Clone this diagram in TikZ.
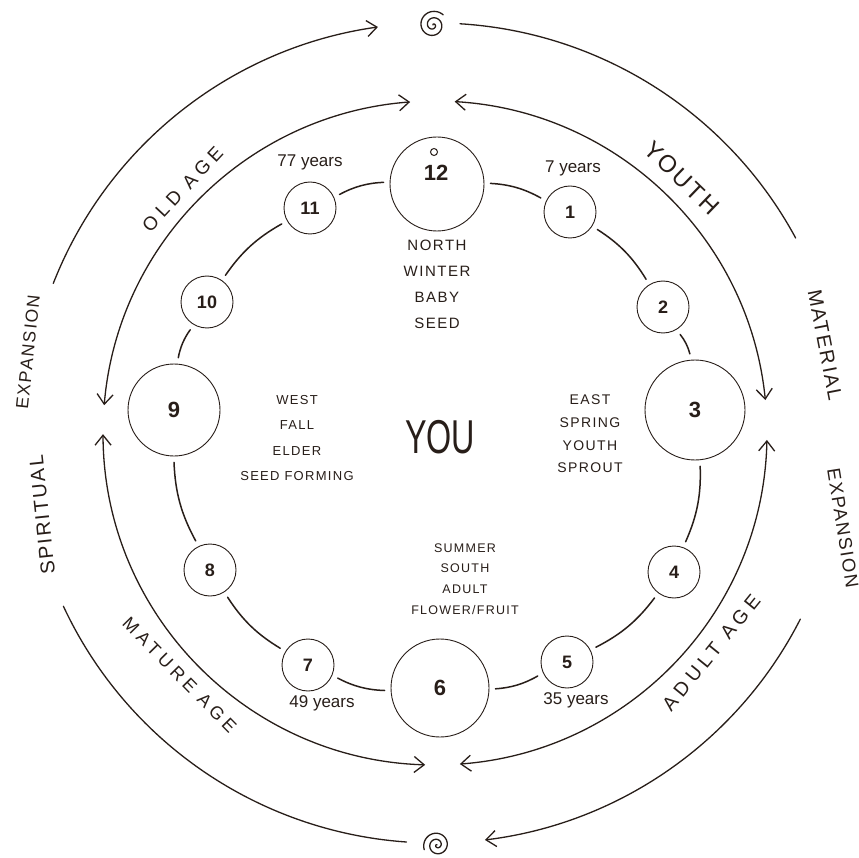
\documentclass[tikz,border=0pt]{standalone}
\usepackage{fontspec}
\setmainfont{Liberation Sans}
\newfontfamily\hand[LetterSpace=10]{Liberation Sans}
\newfontfamily\handw[LetterSpace=25]{Liberation Sans}
\usetikzlibrary{arrows.meta,calc}
\definecolor{ink}{RGB}{40,30,25}
\begin{document}
\begin{tikzpicture}[x=1pt,y=1pt,
  bignode/.style={circle, draw=ink, line width=0.9pt, inner sep=0pt, text=ink, font=\fontsize{22}{22}\selectfont\bfseries},
  smallnode/.style={circle, draw=ink, line width=0.9pt, minimum size=52pt, inner sep=0pt, text=ink, font=\fontsize{18}{18}\selectfont\bfseries},
  ringline/.style={draw=ink, line width=1.5pt, line cap=round, shorten >=6pt, shorten <=6pt},
  arcline/.style={draw=ink, line width=1.3pt, line cap=round},
  tip/.tip={Straight Barb[length=10pt,width=16pt,line width=1.3pt]},
  dbl/.style={arcline, tip-tip},
  sgl/.style={arcline, -tip},
  lbl/.style={text=ink, align=center, inner sep=0pt},
  yrs/.style={text=ink, inner sep=0pt, font=\fontsize{17}{17}\selectfont},
  spiral/.style={draw=ink, line width=1.3pt, line cap=round}
]
\useasboundingbox (0,0) rectangle (859,-858);
\fill[white] (0,0) rectangle (859,-858);
\coordinate (M) at (435,-433);

% clock nodes
\node[bignode, minimum size=94pt] (n12) at (437,-184) {};
\node[lbl, font=\fontsize{22}{22}\selectfont\bfseries] (t12) at (436,-173) {12};
\node[circle, draw=ink, line width=1pt, minimum size=7pt, inner sep=0pt] (o12) at (434,-152) {};
\node[smallnode] (n1) at (570,-212) {1};
\node[smallnode] (n2) at (663,-307) {2};
\node[bignode, minimum size=100pt] (n3) at (695,-410) {3};
\node[smallnode] (n4) at (674,-572) {4};
\node[smallnode] (n5) at (567,-662) {5};
\node[bignode, minimum size=98pt] (n6) at (440,-688) {6};
\node[smallnode] (n7) at (308,-665) {7};
\node[smallnode] (n8) at (210,-570) {8};
\node[bignode, minimum size=92pt] (n9) at (174,-410) {9};
\node[smallnode] (n10) at (207,-302) {10};
\node[smallnode] (n11) at (310,-208) {11};

% inner ring
\draw[ringline] (n12) to[bend left=13] (n1);
\draw[ringline] (n1) to[bend left=13] (n2);
\draw[ringline] (n2) to[bend left=13] (n3);
\draw[ringline] (n3) to[bend left=13] (n4);
\draw[ringline] (n4) to[bend left=13] (n5);
\draw[ringline] (n5) to[bend left=13] (n6);
\draw[ringline] (n6) to[bend left=13] (n7);
\draw[ringline] (n7) to[bend left=13] (n8);
\draw[ringline] (n8) to[bend left=13] (n9);
\draw[ringline] (n9) to[bend left=13] (n10);
\draw[ringline] (n10) to[bend left=13] (n11);
\draw[ringline] (n11) to[bend left=13] (n12);

% years
\node[yrs] (y77) at (310,-162) {77 years};
\node[yrs] (y7) at (573,-168) {7 years};
\node[yrs] (y49) at (322,-703) {49 years};
\node[yrs] (y35) at (576,-700) {35 years};

% centre texts
\node[lbl, font=\hand\fontsize{15}{26}\selectfont] (north) at (437,-284) {NORTH\\WINTER\\BABY\\SEED};
\node[lbl, font=\hand\fontsize{13}{25.5}\selectfont] (west) at (297,-438) {WEST\\FALL\\ELDER\\SEED FORMING};
\node[lbl, font=\hand\fontsize{14}{22.7}\selectfont] (east) at (590,-434) {EAST\\SPRING\\YOUTH\\SPROUT};
\node[lbl, font=\hand\fontsize{12.5}{20.7}\selectfont] (south) at (465,-579) {SUMMER\\SOUTH\\ADULT\\FLOWER/FRUIT};
\node[lbl, font=\fontsize{38}{38}\selectfont] (you) at (440,-437) {\scalebox{0.85}[1.25]{YOU}};

% middle ring
\draw[dbl] ($(M)+(175.2:332)$) arc[start angle=175.2, end angle=94.3, radius=332];
\draw[dbl] ($(M)+(86.6:332)$) arc[start angle=86.6, end angle=5.7, radius=332];
\draw[dbl] ($(M)+(-1.2:332)$) arc[start angle=-1.2, end angle=-85.7, radius=332];
\draw[dbl] ($(M)+(268.3:332)$) arc[start angle=268.3, end angle=180.2, radius=332];

\node[lbl, rotate=47, font=\handw\fontsize{19}{19}\selectfont] (oldage) at ($(M)+(136:351)$) {OLD AGE};
\node[lbl, rotate=-44, font=\hand\fontsize{24}{24}\selectfont] (youth) at ($(M)+(46:355)$) {YOUTH};
\node[lbl, rotate=51, font=\handw\fontsize{19.5}{19.5}\selectfont] (adult) at ($(M)+(-38.5:353)$) {ADULT AGE};
\node[lbl, rotate=-45.5, font=\handw\fontsize{18}{18}\selectfont] (mature) at ($(M)+(223.5:352)$) {MATURE AGE};

% outer ring
\draw[sgl] ($(M)+(158.6:410)$) arc[start angle=158.6, end angle=98, radius=410];
\draw[arcline] ($(M)+(86.5:410)$) arc[start angle=86.5, end angle=28.4, radius=410];
\draw[sgl] ($(M)+(-27:410)$) arc[start angle=-27, end angle=-83, radius=410];
\draw[arcline] ($(M)+(205:410)$) arc[start angle=205, end angle=266, radius=410];

\node[lbl, rotate=84, font=\hand\fontsize{17.5}{17.5}\selectfont] (expl) at (28,-352) {EXPANSION};
\node[lbl, rotate=96, font=\hand\fontsize{20}{20}\selectfont] (spir) at (42,-515) {SPIRITUAL};
\node[lbl, rotate=-79, font=\hand\fontsize{20}{20}\selectfont] (mat) at (825,-345) {MATERIAL};
\node[lbl, rotate=-81, font=\hand\fontsize{18.5}{18.5}\selectfont] (expr) at (843,-528) {EXPANSION};

% spirals
\draw[spiral] plot[domain=0:800, samples=100, smooth] ({433+0.018*\x*cos(845-\x)},{-25+0.018*\x*sin(845-\x)});
\draw[spiral] plot[domain=0:800, samples=100, smooth] ({437+0.017*\x*cos(\x+120)},{-845+0.017*\x*sin(\x+120)});
\end{tikzpicture}
\end{document}
